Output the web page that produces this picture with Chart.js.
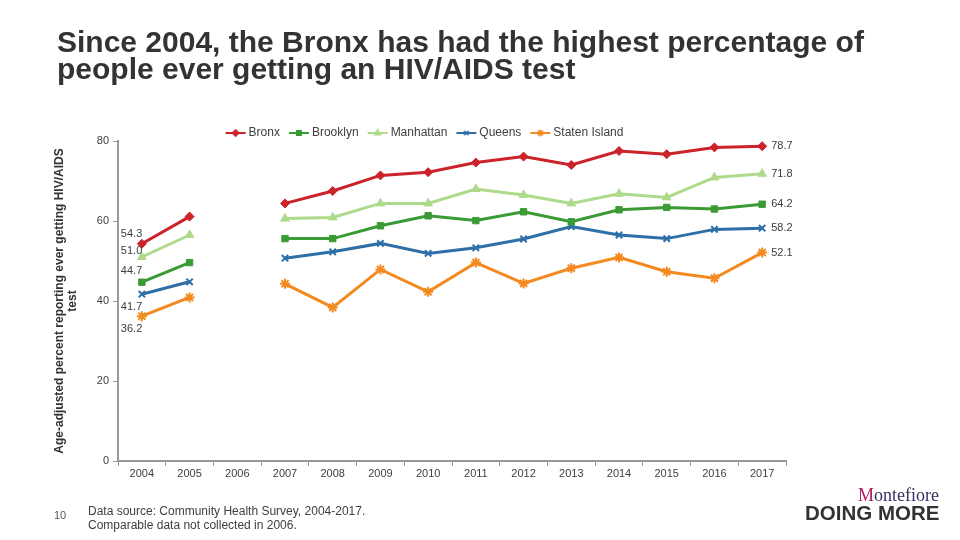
<!DOCTYPE html>
<html><head><meta charset="utf-8">
<script src="https://cdn.jsdelivr.net/npm/chart.js@4.4.1/dist/chart.umd.min.js"></script>
<style>
html,body{margin:0;padding:0;background:#fff;}
#wrap{position:relative;width:960px;height:540px;overflow:hidden;font-family:"Liberation Sans",Arial,sans-serif;}
#title{position:absolute;left:57px;top:28px;font-size:30px;font-weight:bold;color:#333;line-height:27px;white-space:nowrap;}
#chart{position:absolute;left:0;top:0;}
#page{position:absolute;left:54px;top:509px;font-size:11px;color:#555;}
#src{position:absolute;left:88px;top:504px;font-size:12px;color:#404040;line-height:14px;}
#logo1{position:absolute;left:858px;top:485px;font-family:"Liberation Serif",serif;font-size:18px;color:#3b2d63;}
#logo1 span{color:#b5175f;}
#logo2{position:absolute;left:805px;top:501px;font-size:20.5px;font-weight:bold;color:#333;}
</style></head>
<body><div id="wrap">
<canvas id="chart" width="960" height="540"></canvas>
<div id="title">Since 2004, the Bronx has had the highest percentage of<br>people ever getting an HIV/AIDS test</div>
<div id="page">10</div>
<div id="src">Data source: Community Health Survey, 2004-2017.<br>Comparable data not collected in 2006.</div>
<div id="logo1"><span>M</span>ontefiore</div>
<div id="logo2">DOING MORE</div>
</div>
<script>
const years = ['2004','2005','2006','2007','2008','2009','2010','2011','2012','2013','2014','2015','2016','2017'];
const seriesNames = ['Bronx','Brooklyn','Manhattan','Queens','Staten Island'];
const bronx     = [54.3, 61.1, null, 64.4, 67.5, 71.4, 72.2, 74.6, 76.1, 74.0, 77.5, 76.7, 78.4, 78.7];
const brooklyn  = [44.7, 49.6, null, 55.6, 55.6, 58.8, 61.3, 60.1, 62.3, 59.8, 62.8, 63.4, 63.0, 64.2];
const manhattan = [51.0, 56.5, null, 60.6, 60.9, 64.4, 64.4, 68.0, 66.5, 64.4, 66.8, 65.9, 70.9, 71.8];
const queens    = [41.7, 44.8, null, 50.7, 52.3, 54.4, 51.9, 53.3, 55.5, 58.6, 56.5, 55.6, 57.9, 58.2];
const staten    = [36.2, 40.9, null, 44.3, 38.4, 47.9, 42.3, 49.6, 44.4, 48.2, 50.9, 47.3, 45.7, 52.1];
const yTicks = [0, 20, 40, 60, 80];

const colors = ['#cc2229', '#3a9a34', '#aedb8b', '#2d6fa6', '#f4891f'];
const markers = ['rectRot', 'rect', 'triangle', 'crossRot', 'star'];
const radii = [4.5, 4.5, 5, 4.5, 5];
const firstLabelDy = [-10, -11, -6, 12.5, 12.5];
const allData = [bronx, brooklyn, manhattan, queens, staten];

function markerCanvas(color, style, r){
  const c = document.createElement('canvas');
  c.width = 22; c.height = 12;
  const ctx = c.getContext('2d');
  ctx.strokeStyle = color; ctx.fillStyle = color; ctx.lineWidth = 2;
  ctx.beginPath(); ctx.moveTo(1,6); ctx.lineTo(21,6); ctx.stroke();
  ctx.lineWidth = 1.5;
  Chart.helpers.drawPoint(ctx, {pointStyle: style, radius: r*0.7, borderWidth: 1.5, rotation: 0}, 11, 6);
  return c;
}

const legendIcons = colors.map((c,i)=>markerCanvas(c, markers[i], radii[i]));

const datasets = allData.map((d,i)=>({
  label: seriesNames[i],
  data: d,
  borderColor: colors[i],
  backgroundColor: colors[i],
  borderWidth: 3,
  pointStyle: markers[i],
  pointRadius: radii[i],
  pointBorderWidth: (markers[i]==='crossRot'||markers[i]==='star') ? 2 : 1,
  pointHoverRadius: radii[i],
  spanGaps: false,
  tension: 0
}));

const labelPlugin = {
  id: 'endLabels',
  afterDatasetsDraw(chart){
    const ctx = chart.ctx;
    ctx.save();
    ctx.font = '11px "Liberation Sans", Arial, sans-serif';
    ctx.fillStyle = '#404040';
    ctx.textAlign = 'left';
    ctx.textBaseline = 'middle';
    chart.data.datasets.forEach((ds, i)=>{
      const meta = chart.getDatasetMeta(i);
      const first = meta.data[0], last = meta.data[ds.data.length-1];
      ctx.fillText(ds.data[0].toFixed(1), first.x - 21, first.y + firstLabelDy[i]);
      ctx.fillText(ds.data[ds.data.length-1].toFixed(1), last.x + 9, last.y);
    });
    ctx.restore();
  }
};

const legendShift = {
  id: 'legendShift',
  afterLayout(chart){
    const lg = chart.legend;
    if(!lg) return;
    const dx = 426 - (lg.left + lg.right)/2;
    const dy = 133 - (lg.top + 12 + 6);
    lg.left += dx; lg.right += dx;
    lg.top += dy; lg.bottom += dy;
  }
};

new Chart(document.getElementById('chart'), {
  type: 'line',
  data: { labels: years, datasets },
  plugins: [labelPlugin, legendShift],
  options: {
    responsive: false,
    animation: false,
    events: [],
    layout: { padding: { left: 49, right: 174, top: 107, bottom: 49 } },
    plugins: {
      tooltip: { enabled: false },
      legend: {
        position: 'top',
        labels: {
          usePointStyle: true,
          pointStyleWidth: 14,
          padding: 12,
          color: '#404040',
          font: { family: '"Liberation Sans", Arial, sans-serif', size: 12 },
          generateLabels(chart){
            return chart.data.datasets.map((ds,i)=>({
              text: ds.label, pointStyle: legendIcons[i], fillStyle: colors[i],
              strokeStyle: colors[i], lineWidth: 0, datasetIndex: i, hidden: false, fontColor: '#404040'
            }));
          }
        }
      }
    },
    scales: {
      x: {
        offset: true,
        grid: { display: true, offset: true, drawOnChartArea: false, drawTicks: true, tickLength: 5, color: '#999' },
        border: { display: true, color: '#999', width: 2 },
        ticks: { color: '#404040', padding: 1, maxRotation: 0, autoSkip: false,
          font: { family: '"Liberation Sans", Arial, sans-serif', size: 11 } },
        afterFit(scale){ scale.height = 30; }
      },
      y: {
        min: 0, max: 80,
        afterBuildTicks(scale){ scale.ticks = yTicks.map(v=>({value:v})); },
        grid: { display: true, drawOnChartArea: false, drawTicks: true, tickLength: 5, color: '#999' },
        border: { display: true, color: '#999', width: 2 },
        ticks: { color: '#404040', padding: 4,
          font: { family: '"Liberation Sans", Arial, sans-serif', size: 11 } },
        title: {
          display: true,
          text: ['Age-adjusted percent reporting ever getting HIV/AIDS', 'test'],
          color: '#333',
          font: { family: '"Liberation Sans", Arial, sans-serif', size: 12, weight: 'bold', lineHeight: 1.1 },
          padding: { top: 4, bottom: 0 }
        },
        afterFit(scale){ scale.width = 69; }
      }
    }
  }
});
</script>
</body></html>
